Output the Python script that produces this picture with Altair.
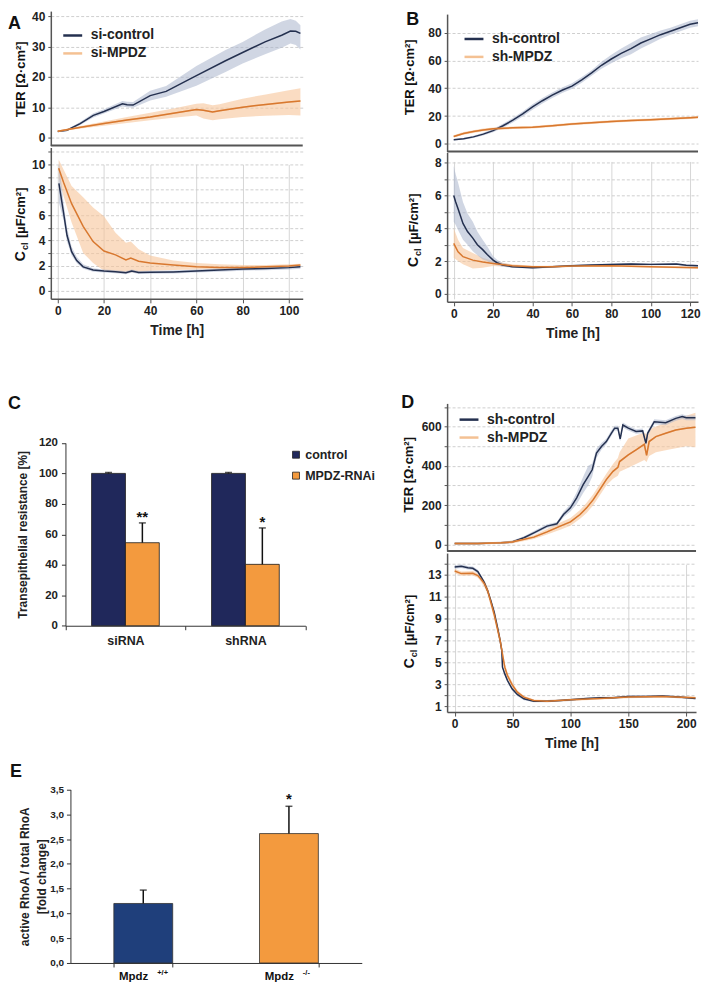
import altair as alt
import pandas as pd

FONT = "Liberation Sans"
TXT = "#222222"
AX = "#555555"
NAVY = "#24304f"
NAVY_BAND = "#aab4cc"
OR_LINE = "#d8782f"
OR_BAND = "#f7c49a"
OR_LEG = "#f4c193"
BAR_NAVY_C = "#20285b"
BAR_NAVY_E = "#1f3f7b"
BAR_OR = "#f39a3e"

# ---------------- Panel A : si-RNA ----------------
A_ter_ctrl_t = [0, 4, 9.7, 15.4, 20, 28, 30, 32.6, 40, 46.9, 60, 72.6, 80, 89.7, 96.9, 100.7, 103, 105]
A_ter_ctrl = [2.0, 2.4, 4.6, 7.3, 8.6, 11.1, 10.8, 10.7, 13.8, 15.2, 20.4, 25.3, 28.0, 31.5, 33.7, 35.1, 35.0, 34.3]
A_ter_ctrl_lo = [1.8, 2.1, 4.1, 6.6, 7.9, 10.2, 10.0, 9.8, 12.2, 13.4, 17.1, 21.6, 24.4, 27.4, 29.6, 31.0, 30.5, 29.0]
A_ter_ctrl_hi = [2.2, 2.7, 5.1, 8.0, 9.3, 12.0, 11.8, 11.7, 15.4, 17.0, 23.6, 28.8, 31.5, 35.6, 38.2, 39.0, 38.5, 37.0]
A_ter_mp_t = [0, 10, 20, 30, 40, 50, 60, 63, 67, 70, 80, 90, 100, 105]
A_ter_mp = [2.1, 3.4, 4.6, 5.8, 6.8, 8.0, 9.2, 9.0, 8.4, 8.8, 10.0, 10.9, 11.7, 12.0]
A_ter_mp_lo = [1.9, 3.0, 3.9, 4.8, 5.7, 6.5, 7.3, 6.3, 5.7, 6.0, 6.8, 7.2, 7.4, 7.3]
A_ter_mp_hi = [2.3, 3.8, 5.3, 6.8, 8.2, 9.6, 11.1, 11.3, 10.6, 11.0, 12.8, 14.2, 15.6, 16.2]

A_ccl_ctrl_t = [0.5, 2.5, 4, 6, 8.2, 11, 15.3, 20, 25, 29.5, 32, 35, 40, 50, 60, 70, 80, 90, 100, 105]
A_ccl_ctrl = [8.5, 6.2, 4.4, 3.1, 2.4, 1.9, 1.65, 1.57, 1.52, 1.44, 1.57, 1.45, 1.47, 1.5, 1.57, 1.65, 1.73, 1.78, 1.84, 1.9]
A_ccl_ctrl_lo = [7.0, 5.6, 3.9, 2.8, 2.2, 1.75, 1.52, 1.45, 1.40, 1.32, 1.45, 1.33, 1.35, 1.38, 1.45, 1.52, 1.6, 1.64, 1.7, 1.76]
A_ccl_ctrl_hi = [10.3, 7.0, 5.0, 3.5, 2.7, 2.1, 1.8, 1.7, 1.64, 1.56, 1.69, 1.57, 1.59, 1.62, 1.69, 1.78, 1.86, 1.92, 1.98, 2.04]
A_ccl_mp_t = [0.4, 2.5, 6, 11, 15.3, 20, 25, 29.5, 31.6, 35, 40, 50, 60, 70, 80, 90, 100, 105]
A_ccl_mp = [9.7, 8.6, 6.9, 5.1, 3.9, 3.15, 2.85, 2.45, 2.6, 2.35, 2.2, 2.05, 1.9, 1.85, 1.85, 1.9, 1.97, 2.05]
A_ccl_mp_lo = [8.9, 7.5, 5.4, 3.0, 2.2, 1.6, 1.5, 1.4, 1.45, 1.5, 1.6, 1.65, 1.7, 1.7, 1.72, 1.75, 1.85, 1.95]
A_ccl_mp_hi = [10.4, 9.6, 8.3, 7.4, 6.6, 5.9, 4.6, 3.8, 3.9, 3.3, 2.8, 2.4, 2.2, 2.1, 2.05, 2.05, 2.1, 2.15]

# ---------------- Panel B : sh-RNA ----------------
B_ter_ctrl_t = [0, 5, 10, 15, 20, 25, 30, 35, 40, 45, 50, 55, 60, 65, 70, 75, 80, 85, 90, 95, 100, 105, 110, 115, 120, 124]
B_ter_ctrl = [2.9, 3.6, 5.0, 7.0, 9.5, 13.0, 17.0, 21.5, 26.5, 31.0, 35.0, 38.5, 41.5, 46.0, 51.0, 56.5, 61.0, 65.0, 68.5, 72.5, 75.5, 78.5, 81.0, 83.5, 86.0, 87.0]
B_ter_ctrl_lo = [2.4, 3.0, 4.2, 6.0, 8.3, 11.6, 15.4, 19.7, 24.5, 29.0, 33.0, 36.5, 39.5, 44.0, 49.0, 54.0, 58.0, 61.5, 64.5, 68.5, 72.0, 75.5, 78.5, 81.0, 83.5, 84.5]
B_ter_ctrl_hi = [3.4, 4.2, 5.8, 8.0, 10.7, 14.4, 18.6, 23.3, 28.5, 33.0, 37.0, 40.5, 43.5, 48.0, 53.0, 59.0, 64.0, 68.5, 72.5, 76.5, 79.0, 81.5, 83.5, 86.0, 88.5, 89.5]
B_ter_mp_t = [0, 5, 10, 15, 20, 30, 40, 50, 60, 70, 80, 90, 100, 110, 120, 124]
B_ter_mp = [5.3, 7.5, 8.8, 10.0, 10.8, 11.5, 12.0, 13.0, 14.2, 15.2, 16.0, 16.7, 17.4, 18.0, 18.8, 19.1]
B_ter_mp_lo = [4.5, 6.5, 7.8, 9.0, 9.8, 10.6, 11.1, 12.1, 13.3, 14.3, 15.1, 15.8, 16.5, 17.1, 17.9, 18.2]
B_ter_mp_hi = [6.1, 8.5, 9.8, 11.0, 11.8, 12.4, 12.9, 13.9, 15.1, 16.1, 16.9, 17.6, 18.3, 18.9, 19.7, 20.0]

B_ccl_ctrl_t = [0, 1, 2.2, 4.7, 7, 9.7, 12, 14.7, 17, 20, 22, 24.7, 29.7, 35, 40, 50, 60, 70, 80, 90, 100, 113, 118, 124]
B_ccl_ctrl = [6.0, 5.6, 5.2, 4.3, 3.8, 3.4, 3.0, 2.7, 2.4, 2.06, 1.9, 1.76, 1.66, 1.62, 1.6, 1.65, 1.72, 1.76, 1.8, 1.82, 1.8, 1.82, 1.75, 1.72]
B_ccl_ctrl_lo = [4.4, 4.2, 3.9, 3.3, 3.0, 2.6, 2.35, 2.1, 2.0, 1.85, 1.75, 1.65, 1.6, 1.56, 1.54, 1.59, 1.66, 1.7, 1.74, 1.76, 1.74, 1.76, 1.69, 1.66]
B_ccl_ctrl_hi = [7.8, 7.3, 6.8, 5.6, 4.9, 4.4, 3.8, 3.3, 2.9, 2.3, 2.08, 1.9, 1.74, 1.68, 1.66, 1.71, 1.78, 1.82, 1.86, 1.88, 1.86, 1.88, 1.81, 1.78]
B_ccl_mp_t = [0, 2.2, 4.7, 9.7, 14.7, 20, 29.7, 40, 50, 60, 80, 100, 124]
B_ccl_mp = [3.08, 2.57, 2.27, 2.06, 1.95, 1.86, 1.72, 1.66, 1.66, 1.7, 1.72, 1.66, 1.6]
B_ccl_mp_lo = [2.2, 2.0, 1.8, 1.55, 1.6, 1.7, 1.64, 1.6, 1.6, 1.64, 1.66, 1.6, 1.54]
B_ccl_mp_hi = [4.0, 3.3, 2.8, 2.5, 2.2, 2.0, 1.8, 1.72, 1.72, 1.76, 1.78, 1.72, 1.66]

# ---------------- Panel C : bars ----------------
C_cat = ["siRNA", "siRNA", "shRNA", "shRNA"]
C_grp = ["control", "MPDZ-RNAi", "control", "MPDZ-RNAi"]
C_val = [100, 54.5, 100, 40.3]
C_up = [100.6, 67.5, 100.6, 64.2]
C_star = ["", "**", "", "*"]

# ---------------- Panel D : sh-RNA long ----------------
D_ter_ctrl_t = [0, 20, 40, 49.6, 59.8, 68.4, 79.8, 88.3, 94, 100, 105.4, 111, 115.4, 118.8, 122.5, 126.8, 131, 135.3, 138.2, 141, 143, 145.3, 150, 156.7, 162.4, 165.2, 166.7, 172.4, 182.3, 191, 196.6, 200, 208]
D_ter_ctrl = [5, 5, 8, 12, 34, 59, 93, 105, 152, 186, 237, 304, 346, 380, 465, 499, 524, 566, 592, 592, 537, 608, 592, 575, 578, 515, 566, 625, 620, 642, 651, 645, 645]
D_ter_ctrl_lo = [0, 0, 3, 6, 27, 50, 84, 96, 138, 168, 205, 262, 300, 345, 440, 482, 510, 552, 580, 580, 525, 595, 580, 563, 566, 503, 554, 612, 607, 630, 639, 633, 633]
D_ter_ctrl_hi = [10, 10, 13, 18, 41, 68, 102, 114, 166, 204, 265, 345, 400, 412, 488, 516, 538, 580, 604, 604, 549, 621, 604, 587, 590, 527, 578, 638, 633, 654, 663, 657, 657]
D_ter_mp_t = [0, 20, 40, 49.6, 68.4, 79.8, 91.2, 100, 108.3, 114, 119.7, 125.4, 131, 136.8, 141, 142.5, 150, 156.7, 163.8, 165.8, 168, 173.8, 182.3, 191, 200, 208]
D_ter_mp = [5, 5, 8, 12, 37, 64, 93, 115, 152, 186, 228, 279, 330, 372, 392, 422, 456, 482, 510, 453, 524, 549, 566, 583, 592, 597]
D_ter_mp_lo = [0, 0, 3, 5, 27, 50, 75, 95, 130, 160, 200, 250, 300, 335, 350, 370, 390, 410, 430, 420, 450, 470, 480, 490, 500, 495]
D_ter_mp_hi = [10, 10, 13, 20, 47, 78, 112, 135, 175, 212, 256, 308, 360, 410, 440, 470, 540, 555, 570, 560, 585, 600, 620, 640, 655, 670]

D_ccl_ctrl_t = [0, 5.7, 11.4, 15.7, 20, 22.8, 25.6, 28.5, 31.3, 34.2, 37, 39.3, 40.7, 41.3, 43.3, 45.6, 49.6, 54.1, 59.8, 68.4, 79.8, 91.2, 100, 114, 125.4, 136.8, 150, 165.2, 179.5, 193.7, 208]
D_ccl_ctrl = [13.66, 13.73, 13.6, 13.54, 13.24, 12.76, 12.24, 11.49, 10.58, 9.52, 8.16, 6.95, 6.05, 4.54, 3.93, 3.33, 2.57, 2.06, 1.66, 1.45, 1.45, 1.51, 1.57, 1.69, 1.75, 1.75, 1.88, 1.88, 1.91, 1.82, 1.69]
D_ccl_ctrl_lo = [13.5, 13.57, 13.44, 13.38, 13.08, 12.6, 12.08, 11.33, 10.42, 9.36, 8.0, 6.79, 5.89, 4.38, 3.77, 3.17, 2.41, 1.92, 1.54, 1.35, 1.35, 1.41, 1.47, 1.59, 1.65, 1.65, 1.78, 1.78, 1.81, 1.72, 1.59]
D_ccl_ctrl_hi = [13.82, 13.89, 13.76, 13.7, 13.4, 12.92, 12.4, 11.65, 10.74, 9.68, 8.32, 7.11, 6.21, 4.7, 4.09, 3.49, 2.73, 2.2, 1.78, 1.55, 1.55, 1.61, 1.67, 1.79, 1.85, 1.85, 1.98, 1.98, 2.01, 1.92, 1.79]
D_ccl_mp_t = [0, 5.7, 15.7, 20, 22.8, 25.6, 28.5, 31.3, 34.2, 37, 39.3, 41.3, 43.3, 45.6, 49.6, 54.1, 59.8, 68.4, 79.8, 100, 125.4, 150, 179.5, 208]
D_ccl_mp = [13.3, 13.06, 13.09, 12.88, 12.55, 12.15, 11.49, 10.43, 9.31, 8.01, 6.95, 5.74, 4.54, 3.78, 2.96, 2.27, 1.81, 1.51, 1.45, 1.57, 1.69, 1.82, 1.88, 1.75]
D_ccl_mp_lo = [13.1, 12.86, 12.89, 12.68, 12.3, 11.85, 11.15, 10.05, 8.9, 7.6, 6.55, 5.35, 4.2, 3.5, 2.72, 2.1, 1.68, 1.41, 1.35, 1.47, 1.59, 1.72, 1.78, 1.65]
D_ccl_mp_hi = [13.5, 13.26, 13.29, 13.08, 12.8, 12.45, 11.83, 10.81, 9.72, 8.42, 7.35, 6.13, 4.88, 4.06, 3.2, 2.44, 1.94, 1.61, 1.55, 1.67, 1.79, 1.92, 1.98, 1.85]

# ---------------- Panel E : bars ----------------
E_cat = ["Mpdz +/+", "Mpdz -/-"]
E_main = ["Mpdz", "Mpdz"]
E_sup = ["+/+", "-/-"]
E_val = [1.2, 2.61]
E_up = [1.47, 3.16]
E_star = ["", "*"]

one = pd.DataFrame({"k": [0]})


def txt(text, x, y, size, align="left", baseline="alphabetic", angle=None, dx=0, dy=0):
    kw = dict(text=text, font=FONT, fontSize=size, fontWeight="bold", color="#111111",
              align=align, baseline=baseline, dx=dx, dy=dy)
    if angle is not None:
        kw["angle"] = angle
    return alt.Chart(one).mark_text(**kw).encode(x=alt.value(x), y=alt.value(y))


def sdf(t, v, lo, hi, name):
    return pd.DataFrame({"t": t, "v": v, "lo": lo, "hi": hi, "s": name})


def group(ctrl, mp, names, X, ys, yaxis, leg=None):
    df = pd.concat([ctrl, mp], ignore_index=True)
    base = alt.Chart(df)
    fc = alt.datum.s == names[0]
    fm = alt.datum.s == names[1]
    layers = [
        base.transform_filter(fm).mark_area(color=OR_BAND, opacity=0.6).encode(
            x=X, y=alt.Y("lo:Q", scale=ys, axis=yaxis), y2="hi:Q"),
        base.transform_filter(fc).mark_area(color=NAVY_BAND, opacity=0.55).encode(
            x=X, y=alt.Y("lo:Q", scale=ys, axis=yaxis), y2="hi:Q"),
    ]
    if leg is not None:
        layers.append(base.mark_line(strokeWidth=1.5).encode(
            x=X, y=alt.Y("v:Q", scale=ys, axis=yaxis),
            color=alt.Color("s:N", scale=alt.Scale(domain=names, range=[NAVY, OR_LEG]), legend=leg)))
    else:
        layers.append(base.transform_filter(fc).mark_line(strokeWidth=1.5, color=NAVY).encode(
            x=X, y=alt.Y("v:Q", scale=ys, axis=yaxis)))
    layers.append(base.transform_filter(fm).mark_line(strokeWidth=1.5, color=OR_LINE).encode(
        x=X, y=alt.Y("v:Q", scale=ys, axis=yaxis)))
    return layers


def yax(values, expr, orient):
    return alt.Axis(values=values, labelExpr=expr, orient=orient, grid=True, gridColor="#cfcfcf", gridDash=[3, 2],
                    domainColor=AX, domainWidth=1.5, tickColor=AX, tickSize=3, labelFont=FONT, labelFontSize=12,
                    labelFontWeight="bold", labelColor=TXT, labelPadding=3, title="")


def two_panel(top_c, top_m, bot_c, bot_m, names, xdom, xvals, w, h,
              tdom, trange, tvals, texpr, ttitle_x, ttitle_y,
              bdom, brange, bvals, bexpr, ccl_x, ccl_y, legend_xy, letter=None):
    X = alt.X("t:Q", scale=alt.Scale(domain=xdom, nice=False, zero=False),
              axis=alt.Axis(values=xvals, grid=True, gridColor="#d6d6d6", domainColor=AX, domainWidth=1.5,
                            tickColor=AX, tickSize=4, labelFont=FONT, labelFontSize=12, labelFontWeight="bold",
                            labelColor=TXT, labelPadding=3, labelFlush=False, title="Time [h]", titleFont=FONT,
                            titleFontSize=14, titleFontWeight="bold", titleColor=TXT, titlePadding=7))
    ts = alt.Scale(domain=tdom, range=trange, nice=False, zero=False)
    bs = alt.Scale(domain=bdom, range=brange, nice=False, zero=False)
    leg = alt.Legend(title=None, orient="none", legendX=legend_xy[0], legendY=legend_xy[1],
                     symbolType="stroke", symbolSize=361, symbolStrokeWidth=2.5, labelFont=FONT,
                     labelFontSize=14, labelFontWeight="bold", labelColor=TXT, labelOffset=7,
                     rowPadding=0, padding=0)
    top_layers = group(top_c, top_m, names, X, ts, yax(tvals, texpr, "left"), leg)
    sep = alt.Chart(one).mark_rule(color=AX, strokeWidth=2).encode(
        x=alt.datum(xdom[0]), x2=alt.datum(xdom[1]), y=alt.datum(tdom[0], scale=ts))
    top_layers.append(sep)
    top_layers.append(txt("TER [Ω·cm²]", ttitle_x, ttitle_y, 13, align="center", baseline="middle", angle=270))
    if letter:
        top_layers.append(txt(letter[0], letter[1], letter[2], 18))
    bot_layers = group(bot_c, bot_m, names, X, bs, yax(bvals, bexpr, "left"))
    bot_layers.append(txt("C", ccl_x, ccl_y, 14, align="right", baseline="middle", angle=270))
    bot_layers.append(txt("cl", ccl_x, ccl_y, 9, align="left", baseline="middle", angle=270, dx=1, dy=4))
    bot_layers.append(txt("[µF/cm²]", ccl_x, ccl_y, 13, align="left", baseline="middle", angle=270, dx=13))
    return alt.layer(alt.layer(*top_layers), alt.layer(*bot_layers)).resolve_scale(y="independent").properties(
        width=w, height=h)


mod = lambda m: f"datum.value % {m} == 0 ? datum.label : ''"

A = two_panel(sdf(A_ter_ctrl_t, A_ter_ctrl, A_ter_ctrl_lo, A_ter_ctrl_hi, "si-control"),
              sdf(A_ter_mp_t, A_ter_mp, A_ter_mp_lo, A_ter_mp_hi, "si-MPDZ"),
              sdf(A_ccl_ctrl_t, A_ccl_ctrl, A_ccl_ctrl_lo, A_ccl_ctrl_hi, "si-control"),
              sdf(A_ccl_mp_t, A_ccl_mp, A_ccl_mp_lo, A_ccl_mp_hi, "si-MPDZ"),
              ["si-control", "si-MPDZ"], [-3, 106], [0, 20, 40, 60, 80, 100], 253, 289,
              [-2.62, 41.64], [135, 0], list(range(0, 41, 5)), mod(10), -30, 68.5,
              [-0.63, 11.34], [289, 137], list(range(0, 12)), mod(2), -30, 241,
              (11, 13.5), ("A", -43, 18))
B = two_panel(sdf(B_ter_ctrl_t, B_ter_ctrl, B_ter_ctrl_lo, B_ter_ctrl_hi, "sh-control"),
              sdf(B_ter_mp_t, B_ter_mp, B_ter_mp_lo, B_ter_mp_hi, "sh-MPDZ"),
              sdf(B_ccl_ctrl_t, B_ccl_ctrl, B_ccl_ctrl_lo, B_ccl_ctrl_hi, "sh-control"),
              sdf(B_ccl_mp_t, B_ccl_mp, B_ccl_mp_lo, B_ccl_mp_hi, "sh-MPDZ"),
              ["sh-control", "sh-MPDZ"], [-3.36, 124.0], [0, 20, 40, 60, 80, 100, 120], 252, 292,
              [-5.5, 93.3], [141, 3], list(range(0, 91, 10)), mod(20), -37, 66.5,
              [-0.486, 8.626], [292, 142], list(range(0, 9)), mod(2), -33, 247,
              (16, 17), ("B", -41, 14))
D = two_panel(sdf(D_ter_ctrl_t, D_ter_ctrl, D_ter_ctrl_lo, D_ter_ctrl_hi, "sh-control"),
              sdf(D_ter_mp_t, D_ter_mp, D_ter_mp_lo, D_ter_mp_hi, "sh-MPDZ"),
              sdf(D_ccl_ctrl_t, D_ccl_ctrl, D_ccl_ctrl_lo, D_ccl_ctrl_hi, "sh-control"),
              sdf(D_ccl_mp_t, D_ccl_mp, D_ccl_mp_lo, D_ccl_mp_hi, "sh-MPDZ"),
              ["sh-control", "sh-MPDZ"], [-6.55, 208.5], [0, 50, 100, 150, 200], 250, 310,
              [-34, 718.2], [148.3, 0], list(range(0, 701, 100)), mod(200), -38, 71.8,
              [0.456, 14.93], [310, 150.3], list(range(1, 15)), "datum.value % 2 == 1 ? datum.label : ''",
              -37.5, 256, (11, 5.3))

# ---- Panel C ----
c_df = pd.DataFrame({"cat": C_cat, "grp": C_grp, "val": C_val, "up": C_up, "star": C_star})
CH = 223.3
cx = alt.X("cat:N", sort=["siRNA", "shRNA"],
           scale=alt.Scale(range=[14.7, 255.7], paddingInner=0, paddingOuter=0),
           axis=alt.Axis(title="", labelAngle=0, tickBand="extent", domainColor="#333333", tickColor="#333333",
                         tickSize=4, labelFont=FONT, labelFontSize=12.5, labelFontWeight="bold", labelColor=TXT,
                         labelPadding=5))
cxo = alt.XOffset("grp:N", sort=["control", "MPDZ-RNAi"], scale=alt.Scale(paddingInner=0, paddingOuter=0.772))
cys = alt.Scale(domain=[0, 120], range=[CH, CH - 183.6], nice=False)
cyax = alt.Axis(values=[0, 20, 40, 60, 80, 100, 120], grid=False, offset=-14.7, domainColor="#333333",
                tickColor="#333333", tickSize=4, labelFont=FONT, labelFontSize=11.5, labelFontWeight="bold",
                labelColor=TXT, labelPadding=4, title="Transepithelial resistance [%]", titleX=-43,
                titleBaseline="middle", titleFont=FONT, titleFontSize=12, titleFontWeight="bold", titleColor=TXT)
cbase = alt.Chart(c_df)
c_bars = cbase.mark_bar(stroke="#1a1a1a", strokeWidth=0.8).encode(
    x=cx, xOffset=cxo, y=alt.Y("val:Q", scale=cys, axis=cyax),
    color=alt.Color("grp:N", sort=["control", "MPDZ-RNAi"],
                    scale=alt.Scale(domain=["control", "MPDZ-RNAi"], range=[BAR_NAVY_C, BAR_OR]),
                    legend=alt.Legend(title=None, orient="none", legendX=240, legendY=45.3, symbolType="square",
                                      symbolSize=49, symbolStrokeColor="#222222", symbolStrokeWidth=0.8,
                                      labelFont=FONT, labelFontSize=12.5, labelFontWeight="bold",
                                      labelColor=TXT, labelOffset=3, rowPadding=8, padding=0)))
c_err = cbase.mark_rule(color="#111111", strokeWidth=1.5).encode(
    x=cx, xOffset=cxo, y=alt.Y("val:Q", scale=cys, axis=cyax), y2="up:Q")
c_cap = cbase.mark_tick(color="#111111", thickness=1.5, size=7).encode(
    x=cx, xOffset=cxo, y=alt.Y("up:Q", scale=cys, axis=cyax))
c_star = cbase.mark_text(font=FONT, fontSize=15, fontWeight="bold", color="#111111", baseline="alphabetic",
                         dy=-1).encode(x=cx, xOffset=cxo, y=alt.Y("up:Q", scale=cys, axis=cyax), text="star:N")
C = alt.layer(c_bars, c_err, c_cap, c_star).properties(width=258, height=CH)

# ---- Panel E ----
e_df = pd.DataFrame({"cat": E_cat, "main": E_main, "sup": E_sup, "val": E_val, "up": E_up, "star": E_star})
EH = 250
ex = alt.X("cat:N", sort=E_cat, scale=alt.Scale(range=[19.7, 312.3], paddingInner=0.596, paddingOuter=0.298),
           axis=alt.Axis(labels=False, title="", tickBand="extent", domainColor="#333333", tickColor="#333333",
                         tickSize=4))
eys = alt.Scale(domain=[0, 3.5], range=[EH, EH - 174.3], nice=False)
eyax = alt.Axis(values=[0, 0.5, 1, 1.5, 2, 2.5, 3, 3.5], labelExpr="replace(format(datum.value, '.1f'), '.', ',')",
                offset=-19.7, grid=False, domainColor="#333333", tickColor="#333333", tickSize=4, labelFont=FONT,
                labelFontSize=10, labelFontWeight="bold", labelColor=TXT, labelPadding=3,
                title=["active RhoA / total RhoA", "[fold change]"], titleX=-46, titleBaseline="middle",
                titleFont=FONT, titleFontSize=12, titleFontWeight="bold", titleColor=TXT, titleLineHeight=17)
ebase = alt.Chart(e_df)
e_bars = ebase.mark_bar(stroke="#333333", strokeWidth=0.8).encode(
    x=ex, y=alt.Y("val:Q", scale=eys, axis=eyax),
    color=alt.Color("cat:N", scale=alt.Scale(domain=E_cat, range=[BAR_NAVY_E, BAR_OR]), legend=None))
e_err = ebase.mark_rule(color="#111111", strokeWidth=1.5).encode(
    x=ex, y=alt.Y("val:Q", scale=eys, axis=eyax), y2="up:Q")
e_cap = ebase.mark_tick(color="#111111", thickness=1.5, size=7).encode(
    x=ex, y=alt.Y("up:Q", scale=eys, axis=eyax))
e_star = ebase.mark_text(font=FONT, fontSize=15, fontWeight="bold", color="#111111", baseline="alphabetic",
                         dy=-2).encode(x=ex, y=alt.Y("up:Q", scale=eys, axis=eyax), text="star:N")
e_lab = ebase.mark_text(font=FONT, fontSize=11.5, fontWeight="bold", color="#111111", align="right",
                        baseline="middle", dx=5).encode(x=ex, y=alt.value(EH + 14), text="main:N")
e_sup = ebase.mark_text(font=FONT, fontSize=7.5, fontWeight="bold", color="#111111", align="left",
                        baseline="middle", dx=14, dy=-4).encode(x=ex, y=alt.value(EH + 14), text="sup:N")
E = alt.layer(e_bars, e_err, e_cap, e_star, e_lab, e_sup,
              txt("E", -41, EH - 186.3, 18)).properties(width=258, height=EH)


def spacer(w, h, letter=None):
    sp = alt.Chart(one).mark_point(opacity=0, size=0, strokeWidth=0).encode(x=alt.value(0), y=alt.value(0))
    if letter:
        return alt.layer(sp, txt(letter[0], letter[1], letter[2], 18)).properties(width=w, height=h)
    return sp.properties(width=w, height=h)


chart = alt.concat(
    A, B,
    spacer(258, 97.7, ("C", -43, 106)), spacer(10, 97.7, ("D", -46, 105)),
    C, D,
    E, spacer(10, 1),
    columns=2, spacing={"row": 2, "column": 140}, align="none", bounds="flush",
).resolve_scale(color="independent").resolve_legend(color="independent").properties(
    padding=0).configure_view(strokeWidth=0)

chart.save("out.html", embed_options={"renderer": "svg", "actions": False})
